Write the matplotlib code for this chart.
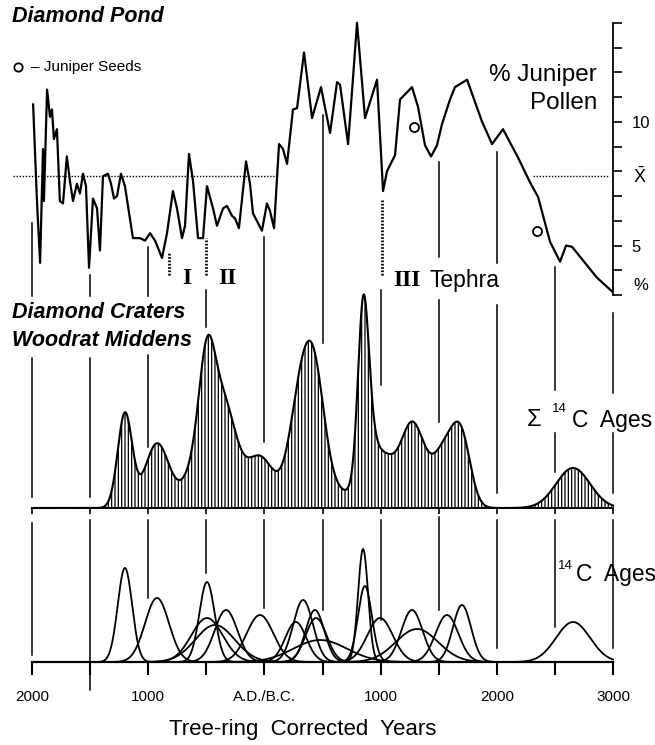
import numpy as np
import matplotlib.pyplot as plt

plt.rcParams['font.family'] = ['Liberation Sans', 'DejaVu Sans']
plt.rcParams['mathtext.fontset'] = 'custom'
plt.rcParams['mathtext.rm'] = 'Liberation Sans'
plt.rcParams['mathtext.it'] = 'Liberation Sans:italic'
plt.rcParams['mathtext.bf'] = 'Liberation Sans:bold'
plt.rcParams['mathtext.default'] = 'regular'
plt.rcParams['hatch.linewidth'] = 0.9

# years: negative = A.D., positive = B.C.
pollen_year = [-1990, -1957, -1930, -1905, -1897, -1870, -1845, -1828, -1811, -1785,
               -1760, -1733, -1700, -1673, -1647, -1613, -1587, -1561, -1535, -1509,
               -1475, -1440, -1415, -1389, -1346, -1320, -1294, -1268, -1234, -1200,
               -1131, -1071, -1027, -984, -941, -881, -838, -787, -752, -709,
               -683, -649, -614, -571, -528, -494, -442, -408, -356, -322,
               -279, -253, -219, -158, -124, -98, -21, 22, 48, 83,
               126, 160, 195, 246, 281, 341, 410, 487, 565, 625,
               651, 720, 763, 797, 866, 969, 1021, 1055, 1124, 1167,
               1270, 1322, 1382, 1434, 1485, 1528, 1597, 1640, 1744, 1873,
               1959, 2053, 2183, 2286, 2355, 2458, 2544, 2596, 2647, 2862, 2991]
pollen_pct = [10.7, 6.8, 4.3, 8.9, 6.8, 11.3, 10.2, 10.5, 9.3, 9.7,
              6.8, 6.7, 8.6, 7.6, 6.8, 7.5, 7.1, 7.9, 7.4, 4.1,
              6.9, 6.5, 4.8, 7.8, 7.9, 7.5, 6.9, 7.0, 7.9, 7.4,
              5.3, 5.3, 5.2, 5.5, 5.2, 4.5, 5.5, 7.2, 6.5, 5.3,
              5.8, 8.7, 7.6, 5.3, 5.3, 7.4, 6.5, 5.8, 6.5, 6.6,
              6.2, 6.1, 5.7, 8.4, 7.5, 6.3, 5.6, 6.7, 6.4, 5.7,
              9.1, 8.9, 8.3, 10.5, 10.55, 12.8, 10.15, 11.4, 9.55, 11.6,
              11.5, 9.1, 11.8, 14.0, 10.15, 11.7, 7.2, 8.0, 8.65, 10.9,
              11.4, 10.6, 9.05, 8.6, 9.05, 9.9, 10.9, 11.4, 11.7, 10.0,
              9.1, 9.7, 8.55, 7.55, 6.96, 5.15, 4.35, 5.0, 4.95, 3.7, 3.15]
seed_year = [1290, 2345]
seed_pct = [9.8, 5.6]
mean_pct = 7.8
tephra_year = [-820, -500, 1010]
tephra_top = [4.75, 5.3, 6.85]
tephra_label = ['I', 'II', 'III']

# calibrated 14C ages of the woodrat middens: centre, spread (yr), height
c14_center = [-1200, -924, -494, -330, -494, -425, -38, 333, 270, 435,
              445, 480, 849, 865, 995, 1270, 1313, 1571, 1700, 2656]
c14_sigma = [62, 103, 66, 98, 135, 170, 115, 85, 90, 80,
             90, 230, 43, 60, 110, 91, 182, 98, 78, 146]
c14_height = [0.94, 0.64, 0.80, 0.52, 0.44, 0.37, 0.47, 0.62, 0.40, 0.52,
              0.44, 0.22, 1.13, 0.76, 0.44, 0.52, 0.33, 0.47, 0.57, 0.40]

tick_years = [-2000, -1500, -1000, -500, 0, 500, 1000, 1500, 2000, 2500, 3000]
tick_labels = ['2000', '', '1000', '', 'A.D./B.C.', '', '1000', '', '2000', '', '3000']

W, H = 655, 745
XL = (-2275, 3361)
fig = plt.figure(figsize=(W / 100, H / 100), dpi=100)


def band(top, bot):
    ax = fig.add_axes([0, 1 - bot / H, 1, (bot - top) / H])
    ax.set_xlim(*XL)
    ax.patch.set_visible(False)
    for s in ax.spines.values():
        s.set_visible(False)
    return ax


# --- pollen panel
ax1 = band(0, 300)
ax1.set_ylim(2.80, 14.92)
ax1.hlines(mean_pct, -2165, 90, colors='k', lw=1, linestyles=(0, (1, 1.2)))
ax1.hlines(mean_pct, 2310, 2960, colors='k', lw=1, linestyles=(0, (1, 1.2)))
ax1.plot(pollen_year, pollen_pct, color='k', lw=1.6)
ax1.plot(seed_year, seed_pct, 'o', mfc='white', mec='k', ms=6.5, mew=1.3)
ax1.vlines(tephra_year, 3.8, tephra_top, colors='k', lw=2, linestyles=(0, (0.6, 0.6)))
sp = ax1.spines['right']
sp.set_visible(True)
sp.set_position(('data', 3000))
sp.set_bounds(3, 14)
sp.set_linewidth(1.3)
ax1.yaxis.tick_right()
ax1.set_yticks(range(3, 15))
ax1.set_yticklabels(['10' if v == 10 else '5' if v == 5 else '' for v in range(3, 15)])
ax1.tick_params(axis='y', length=6.5, width=1.2, pad=7, labelsize=12)
ax1.set_xticks([])

# --- summed ages panel
xs = np.linspace(-2000, 3000, 2001)
curves = [h * np.exp(-0.5 * ((xs - c) / s) ** 2)
          for c, s, h in zip(c14_center, c14_sigma, c14_height)]
total = np.sum(curves, axis=0)

ax2 = band(290, 520)
ax2.set_ylim(-0.12, 2.18)
ax2.fill_between(xs, 0, total, facecolor='white', edgecolor='k', hatch='|||||', lw=0)
ax2.plot(xs, total, color='k', lw=1.5)
sp = ax2.spines['bottom']
sp.set_visible(True)
sp.set_position(('data', 0))
sp.set_bounds(-2000, 3000)
sp.set_linewidth(1.4)
ax2.set_yticks([])
ax2.set_xticks(tick_years)
ax2.set_xticklabels([])
ax2.tick_params(axis='x', length=4, width=1.2)

# --- individual ages panel
ax3 = band(515, 680)
ax3.set_ylim(-0.18, 1.47)
for cv in curves:
    ax3.plot(xs, cv, color='k', lw=1.3)
sp = ax3.spines['bottom']
sp.set_visible(True)
sp.set_position(('data', 0))
sp.set_bounds(-2000, 3000)
sp.set_linewidth(1.6)
ax3.set_yticks([])
ax3.set_xticks(tick_years)
ax3.set_xticklabels(tick_labels)
ax3.tick_params(axis='x', length=9, width=1.5, pad=11, labelsize=11)

# --- broken vertical guide lines (figure pixels in y)
gx = fig.add_axes([0, 0, 1, 1])
gx.set_xlim(*XL)
gx.set_ylim(H, 0)
gx.axis('off')
gx.patch.set_visible(False)
guides = {
    -2000: [(223, 296), (358, 497), (523, 655)],
    -1500: [(275, 296), (358, 497), (520, 690)],
    -1000: [(247, 296), (355, 447), (520, 598)],
    -500: [(290, 327), (520, 573)],
    0: [(237, 442), (520, 608)],
    500: [(115, 343), (520, 610)],
    1000: [(290, 385), (520, 620)],
    1500: [(162, 257), (300, 422), (517, 610)],
    2000: [(152, 263), (305, 493), (520, 648)],
    2500: [(267, 390), (433, 472), (520, 627)],
    3000: [(313, 393), (433, 493), (520, 648)],
}
for yr, segs in guides.items():
    for a, b in segs:
        gx.plot([yr, yr], [a, b], color='k', lw=1.1)

# --- text (figure pixels)
tx = fig.add_axes([0, 0, 1, 1])
tx.set_xlim(0, W)
tx.set_ylim(H, 0)
tx.axis('off')
tx.patch.set_visible(False)
bi = dict(fontweight='bold', fontstyle='italic', fontsize=15.5, va='center', ha='left')
tx.text(12, 17, 'Diamond Pond', **bi)
tx.text(12, 313, 'Diamond Craters', **bi)
tx.text(12, 340, 'Woodrat Middens', **bi)
tx.plot([17.5], [67], 'o', mfc='white', mec='k', ms=6, mew=1.3)
tx.text(31, 67, '– Juniper Seeds', fontsize=11, va='center', ha='left')
tx.text(597, 75, '% Juniper', fontsize=17.5, va='center', ha='right')
tx.text(597, 103, 'Pollen', fontsize=17.5, va='center', ha='right')
tx.text(633, 177, r'$\bar{X}$', fontsize=13, va='center', ha='left')
tx.text(633, 285, '%', fontsize=12, va='center', ha='left')
serif = dict(family='Liberation Serif', fontweight='bold', fontsize=17, va='center', ha='center')
tx.text(187, 279, tephra_label[0], **serif)
tx.text(227, 279, tephra_label[1], **serif)
tx.text(407, 280, tephra_label[2], **serif)
tx.text(430, 280, 'Tephra', fontsize=16.5, va='center', ha='left')
# summed ages label
tx.text(527, 420, 'Σ', fontsize=17, va='center', ha='left')
tx.text(552, 409, '14', fontsize=9.5, va='center', ha='left')
tx.text(572, 420, 'C  Ages', fontsize=16.5, va='center', ha='left')
# individual ages label
tx.text(558, 566, '14', fontsize=9.5, va='center', ha='left')
tx.text(576, 575, 'C  Ages', fontsize=16.5, va='center', ha='left')
tx.text(303, 730, 'Tree-ring  Corrected  Years', fontsize=16, va='center', ha='center')

fig.savefig('out.png', dpi=100)
